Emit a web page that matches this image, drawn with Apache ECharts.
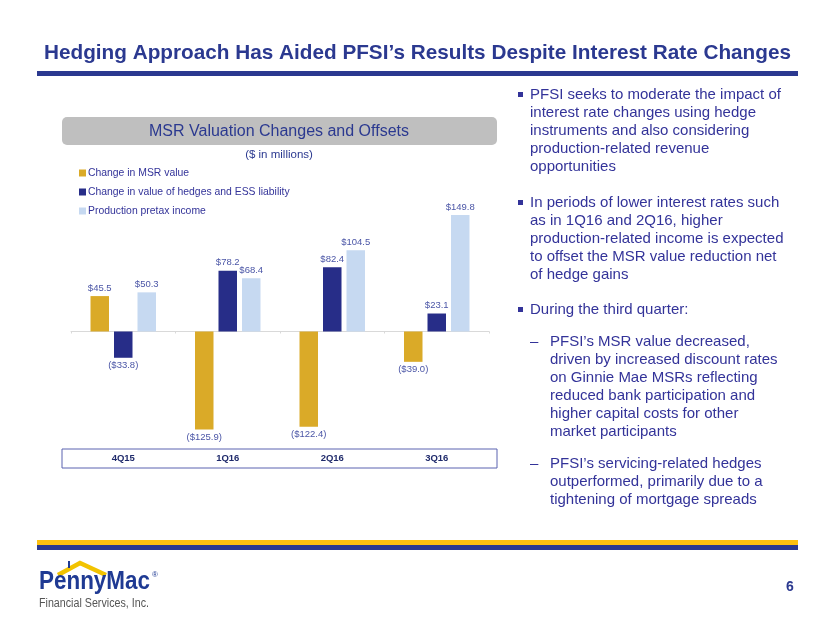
<!DOCTYPE html>
<html><head><meta charset="utf-8">
<script src="https://cdn.jsdelivr.net/npm/echarts@6/dist/echarts.min.js"></script>
<style>html,body{margin:0;padding:0;background:#fff}#c{width:830px;height:623px}</style>
</head><body><div id="c"></div>
<script>
const categories = ['4Q15','1Q16','2Q16','3Q16'];
const msrChange = [45.5, -125.9, -122.4, -39.0];
const hedgeChange = [-33.8, 78.2, 82.4, 23.1];
const productionIncome = [50.3, 68.4, 104.5, 149.8];
const seriesNames = ['Change in MSR value','Change in value of hedges and ESS liability','Production pretax income'];

const NAVY = '#2B3990';
const TXT = '#333399';
const fmt = v => v < 0 ? '($' + Math.abs(v).toFixed(1) + ')' : '$' + v.toFixed(1);

const bodyLines = [
  {b:'sq', t:'PFSI seeks to moderate the impact of', y:95},
  {t:'interest rate changes using hedge', y:113},
  {t:'instruments and also considering', y:131},
  {t:'production-related revenue', y:149},
  {t:'opportunities', y:167},
  {b:'sq', t:'In periods of lower interest rates such', y:203},
  {t:'as in 1Q16 and 2Q16, higher', y:221},
  {t:'production-related income is expected', y:239},
  {t:'to offset the MSR value reduction net', y:257},
  {t:'of hedge gains', y:275},
  {b:'sq', t:'During the third quarter:', y:310},
  {b:'dash', t:'PFSI\u2019s MSR value decreased,', y:342, sub:true},
  {t:'driven by increased discount rates', y:360, sub:true},
  {t:'on Ginnie Mae MSRs reflecting', y:378, sub:true},
  {t:'reduced bank participation and', y:396, sub:true},
  {t:'higher capital costs for other', y:414, sub:true},
  {t:'market participants', y:432, sub:true},
  {b:'dash', t:'PFSI\u2019s servicing-related hedges', y:464, sub:true},
  {t:'outperformed, primarily due to a', y:482, sub:true},
  {t:'tightening of mortgage spreads', y:500, sub:true}
];

const ctx = document.createElement('canvas').getContext('2d');
function fitScale(text, font, width) { ctx.font = font; return width / ctx.measureText(text).width; }

const graphics = [];
// title
const titleText = 'Hedging Approach Has Aided PFSI\u2019s Results Despite Interest Rate Changes';
const titleFont = 'bold 21px "Liberation Sans",Arial';
graphics.push({type:'text', x:44, y:53, scaleX:fitScale(titleText, titleFont, 747), style:{text:titleText, font:titleFont, fill:NAVY, textVerticalAlign:'middle'}});
graphics.push({type:'rect', shape:{x:37,y:71,width:761,height:5}, style:{fill:NAVY}});
// chart header box
graphics.push({type:'rect', shape:{x:62,y:117,width:435,height:28,r:5}, style:{fill:'#BFBFBF'}});
graphics.push({type:'text', x:279, y:131.5, style:{text:'MSR Valuation Changes and Offsets', font:'16px "Liberation Sans",Arial', fill:NAVY, textAlign:'center', textVerticalAlign:'middle'}});
graphics.push({type:'text', x:279, y:155, style:{text:'($ in millions)', font:'11.5px "Liberation Sans",Arial', fill:NAVY, textAlign:'center', textVerticalAlign:'middle'}});
// category box
graphics.push({type:'rect', shape:{x:62,y:449,width:435,height:19}, style:{fill:'none', stroke:'#5B63B0', lineWidth:1}});
// body text
bodyLines.forEach(l => {
  const tx = l.sub ? 550 : 530;
  graphics.push({type:'text', x:tx, y:l.y, style:{text:l.t, font:'15px "Liberation Sans",Arial', fill:TXT, textVerticalAlign:'middle'}});
  if (l.b === 'sq') graphics.push({type:'rect', shape:{x:518,y:l.y-3,width:5,height:5}, style:{fill:TXT}});
  if (l.b === 'dash') graphics.push({type:'text', x:530, y:l.y, style:{text:'\u2013', font:'15px "Liberation Sans",Arial', fill:TXT, textVerticalAlign:'middle'}});
});
// bottom lines
graphics.push({type:'rect', shape:{x:37,y:540,width:761,height:5}, style:{fill:'#FDC010'}});
graphics.push({type:'rect', shape:{x:37,y:545,width:761,height:5}, style:{fill:NAVY}});
// logo
graphics.push({type:'polyline', shape:{points:[[58,575],[80,563],[106,575]]}, style:{stroke:'#F2C300', lineWidth:4.5, fill:'none'}});
graphics.push({type:'rect', shape:{x:68,y:561,width:2,height:7}, style:{fill:'#1F3A93'}});
const logoFont = 'bold 25px "Liberation Sans",Arial';
graphics.push({type:'text', x:39, y:595, scaleX:fitScale('PennyMac', logoFont, 111), style:{text:'PennyMac', font:logoFont, fill:'#1F3A93', textVerticalAlign:'bottom'}});
graphics.push({type:'text', x:155, y:575, style:{text:'\u00AE', font:'8px Arial', fill:'#1F3A93', textAlign:'center', textVerticalAlign:'middle'}});
const subFont = '12.5px "Liberation Sans",Arial';
graphics.push({type:'text', x:39, y:604, scaleX:fitScale('Financial Services, Inc.', subFont, 110), style:{text:'Financial Services, Inc.', font:subFont, fill:'#555', textVerticalAlign:'middle'}});
graphics.push({type:'text', x:790, y:587, style:{text:'6', font:'bold 14px "Liberation Sans",Arial', fill:NAVY, textAlign:'center', textVerticalAlign:'middle'}});

const labelOpt = {show:true, position:'outside', formatter:p=>fmt(p.value), color:'#4A55A6', fontSize:9.5, fontFamily:'"Liberation Sans",Arial', distance:3};

const option = {
  animation:false,
  backgroundColor:'#fff',
  legend:{orient:'vertical', left:74, top:163, itemWidth:7, itemHeight:7, itemGap:9, icon:'rect',
    textStyle:{color:TXT, fontSize:10.4, fontFamily:'"Liberation Sans",Arial', padding:[0,0,0,-3]},
    data:seriesNames},
  grid:{left:71, right:341, top:207, height:233.4},
  xAxis:[
    {type:'category', data:categories, axisLine:{onZero:true, lineStyle:{color:'#D9D9D9'}}, axisTick:{show:true, lineStyle:{color:'#D9D9D9'}, length:2}, axisLabel:{show:false}},
    {type:'category', data:categories, position:'bottom', offset:13, axisLine:{show:false}, axisTick:{show:false},
      axisLabel:{color:'#1F2A6B', fontWeight:'bold', fontSize:9.5, fontFamily:'"Liberation Sans",Arial', margin:0}}
  ],
  yAxis:{type:'value', min:-140, max:160, show:false, splitLine:{show:false}},
  series:[
    {name:seriesNames[0], type:'bar', data:msrChange, itemStyle:{color:'#DAAA28'}, barWidth:18.5, barGap:'27%', label:labelOpt},
    {name:seriesNames[1], type:'bar', data:hedgeChange, itemStyle:{color:'#272D88'}, barWidth:18.5, label:labelOpt},
    {name:seriesNames[2], type:'bar', data:productionIncome, itemStyle:{color:'#C6D9F1'}, barWidth:18.5, label:labelOpt},
    {type:'bar', xAxisIndex:1, data:[], silent:true}
  ],
  graphic:graphics
};
const chart = echarts.init(document.getElementById('c'), null, {renderer:'canvas'});
chart.setOption(option);
</script></body></html>
